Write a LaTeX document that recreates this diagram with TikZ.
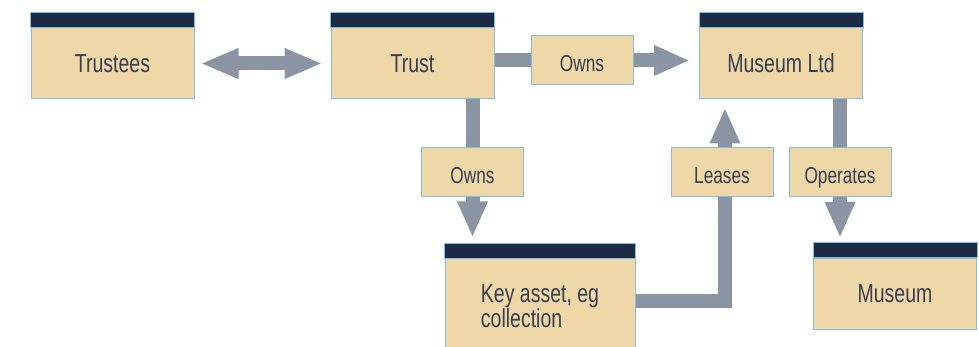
\documentclass[tikz,border=0pt]{standalone}
\usepackage{fontspec}
\setmainfont{Liberation Sans}[FakeStretch=0.75]
\usetikzlibrary{arrows.meta,positioning}
\definecolor{boxtan}{RGB}{240,215,168}
\definecolor{boxedge}{RGB}{125,190,225}
\definecolor{headnavy}{RGB}{27,43,70}
\definecolor{flowgrey}{RGB}{138,148,163}
\definecolor{inktext}{RGB}{55,62,78}
\tikzset{
    entity/.style={draw=boxedge, fill=boxtan, line width=1pt, inner sep=0pt,
        minimum width=163pt, minimum height=71pt, text=inktext,
        font=\fontsize{26}{23}\selectfont},
    relation/.style={draw=boxedge, fill=boxtan, line width=1pt, inner sep=0pt,
        minimum width=102pt, minimum height=49pt, text=inktext,
        text height=22pt, text depth=0pt,
        font=\fontsize{23}{24}\selectfont},
    header/.style={fill=headnavy, draw=boxedge, line width=1pt},
    flow/.style={draw=flowgrey, line width=14pt, line join=miter},
    flowtip/.style={-{Triangle[width=28pt,length=36pt]}},
}
\begin{document}
\begin{tikzpicture}[x=1pt, y=-1pt]
    \useasboundingbox (0,0) rectangle (979,347);
    \node[entity] (trustees) at (112.5,63.5) {Trustees};
    \node[entity] (trust) at (412.5,63.5) {Trust};
    \node[entity] (ltd) at (781,63.5) {Museum Ltd};
    \node[entity, minimum width=190pt, minimum height=95pt, align=left] (asset) at (540,306.5) {Key asset, eg\\collection};
    \node[entity] (museum) at (895,294) {Museum};
    \foreach \n in {trustees, trust, ltd, asset, museum} {
        \filldraw[header] (\n.north west) rectangle ([yshift=15pt]\n.north east) coordinate (\n-top);
    };
    \node[relation] (ownsT) at (582,60.5) {Owns};
    \node[relation] (ownsK) at (472.5,172.5) {Owns};
    \node[relation] (leases) at (722,172.5) {Leases};
    \node[relation] (operates) at (840,172.5) {Operates};
    \coordinate (bend) at (725,301);
    \draw[flow, {Triangle[width=28pt,length=38pt]}-{Triangle[width=28pt,length=38pt]}, shorten <=6pt, shorten >=8pt] (trustees) -- (trust);
    \draw[flow] (ownsT.west -| trust.east) -- (ownsT.west);
    \draw[flow, flowtip, shorten >=9pt] (ownsT.east) -- (ownsT.east -| ltd.west);
    \draw[flow] (ownsK.north |- trust.south) -- (ownsK.north);
    \draw[flow, flowtip, shorten >=6pt] (ownsK.south) -- (ownsK.south |- asset-top);
    \draw[flow] (asset.east |- bend) -- (bend) -- (bend |- leases.south);
    \draw[flow, flowtip, shorten >=8pt] (bend |- leases.north) -- (bend |- ltd.south);
    \draw[flow] (operates.north |- ltd.south) -- (operates.north);
    \draw[flow, flowtip, shorten >=5pt] (operates.south) -- (operates.south |- museum-top);
\end{tikzpicture}
\end{document}
